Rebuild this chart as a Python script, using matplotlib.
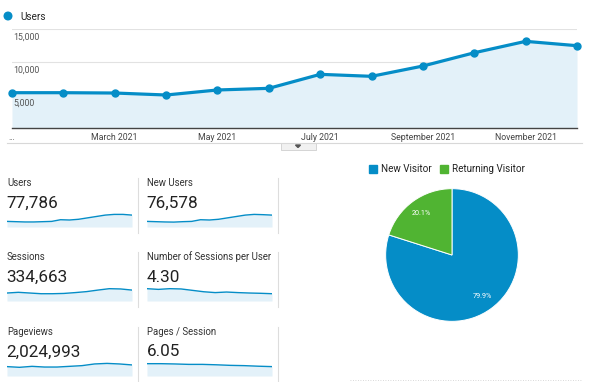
import matplotlib.pyplot as plt
from matplotlib.patches import Rectangle, Circle, Polygon

plt.rcParams['font.family'] = ['Roboto', 'DejaVu Sans']

# main chart: monthly users 2021
months = ["Jan", "Feb", "Mar", "Apr", "May", "Jun", "Jul", "Aug", "Sep", "Oct", "Nov", "Dec"]
users = [5350, 5350, 5300, 5000, 5760, 6010, 8130, 7830, 9390, 11400, 13130, 12470]
tick_pos = [0, 2, 4, 6, 8, 10]
tick_labels = ["...", "March 2021", "May 2021", "July 2021", "September 2021", "November 2021"]
y_ticks = [5000, 10000, 15000]

# scorecards
metric_names = ["Users", "New Users", "Sessions", "Number of Sessions per User", "Pageviews", "Pages / Session"]
metric_values = ["77,786", "76,578", "334,663", "4.30", "2,024,993", "6.05"]
# sparkline heights (fraction of the sparkline box)
spark_users = [0.40, 0.38, 0.36, 0.36, 0.38, 0.40, 0.52, 0.50, 0.55, 0.65, 0.75, 0.85, 0.90, 0.90, 0.85]
spark_new_users = [0.40, 0.38, 0.36, 0.35, 0.38, 0.40, 0.52, 0.50, 0.55, 0.65, 0.75, 0.85, 0.90, 0.88, 0.85]
spark_sessions = [0.57, 0.62, 0.57, 0.52, 0.52, 0.54, 0.60, 0.67, 0.78, 0.88, 0.86, 0.78]
spark_spu = [0.88, 0.83, 0.88, 0.86, 0.76, 0.66, 0.60, 0.64, 0.60, 0.57, 0.55, 0.52]
spark_pageviews = [0.67, 0.62, 0.69, 0.64, 0.64, 0.69, 0.74, 0.86, 0.90, 0.86, 0.79]
spark_pps = [0.88, 0.88, 0.86, 0.83, 0.83, 0.80, 0.76, 0.74, 0.70, 0.67]
sparks = [spark_users, spark_new_users, spark_sessions, spark_spu, spark_pageviews, spark_pps]

# pie
pie_labels = ["New Visitor", "Returning Visitor"]
pie_values = [79.9, 20.1]

BLUE = "#058dc7"
GREEN = "#50b432"
FILL = "#e3f1f9"
W, H = 590, 382


def px(x0, y0, x1, y1):
    return [x0 / W, 1 - y1 / H, (x1 - x0) / W, (y1 - y0) / H]


fig = plt.figure(figsize=(W / 100, H / 100), dpi=100)

# overlay for decorations in pixel coordinates
bg = fig.add_axes([0, 0, 1, 1])
bg.set_xlim(0, W)
bg.set_ylim(H, 0)
bg.axis("off")

# ---- main line chart
ax = fig.add_axes(px(12, 29, 577, 128))
x = list(range(len(users)))
ax.fill_between(x, users, 0, color=FILL, lw=0)
ax.plot(x, users, color=BLUE, lw=2.3, marker="o", ms=5, clip_on=False, zorder=3)
ax.set_xlim(0, len(users) - 1)
ax.set_ylim(0, 15000)
for v in y_ticks:
    ax.axhline(v, color="#e2e2e2", lw=0.8, zorder=0)
    ax.annotate(f"{v:,}", (0, v), xytext=(1, -2.5), textcoords="offset points",
                va="top", ha="left", fontsize=6.3, color="#555555")
ax.set_xticks(tick_pos)
ax.set_xticklabels(tick_labels, fontsize=6.3, color="#444444")
ax.tick_params(axis="x", length=0, pad=3.5)
ax.set_yticks([])
for s in ["top", "left", "right"]:
    ax.spines[s].set_visible(False)
ax.spines["bottom"].set_color("#444444")
ax.spines["bottom"].set_linewidth(1)

# legend "Users"
bg.add_patch(Circle((8, 16), 3.8, color=BLUE))
bg.text(20, 16.5, "Users", fontsize=7.2, color="#222222", va="center", ha="left")

# bottom line and tab
bg.plot([7, 582], [143, 143], color="#d8d8d8", lw=0.8)
bg.add_patch(Rectangle((281, 143), 35, 6.5, facecolor="#f1f1f1", edgecolor="#cfcfcf", lw=0.6))
bg.add_patch(Polygon([[295.5, 145], [300.5, 145], [298, 147.5]], color="#555555"))

# ---- scorecards
col_x = [7, 147]
row_y = [183, 257, 332]
for i, (name, val, sp) in enumerate(zip(metric_names, metric_values, sparks)):
    r, c = divmod(i, 2)
    x0 = col_x[c]
    y0 = row_y[r]
    bg.text(x0, y0, name, fontsize=6.9, color="#333333", va="center", ha="left")
    bg.text(x0 - 0.5, y0 + 20, val, fontsize=12.3, color="#222222", va="center", ha="left")
    sax = fig.add_axes(px(x0, y0 + 30, x0 + 125, y0 + 44))
    sx = list(range(len(sp)))
    sax.fill_between(sx, sp, 0, color=FILL, lw=0)
    sax.plot(sx, sp, color=BLUE, lw=1)
    sax.set_xlim(0, len(sp) - 1)
    sax.set_ylim(0, 1)
    sax.axis("off")
    # separator
    bg.plot([x0 + 131, x0 + 131], [y0 - 5, y0 + 50], color="#dddddd", lw=0.8)

# ---- pie
pax = fig.add_axes(px(385, 188, 519, 322))
wedges, texts, autotexts = pax.pie(pie_values, colors=[BLUE, GREEN], startangle=90,
                                   counterclock=False, autopct="%1.1f%%", pctdistance=0.78,
                                   wedgeprops=dict(edgecolor="white", linewidth=0.7),
                                   textprops=dict(color="white", fontsize=5.2))
pax.set_xlim(-1.01, 1.01)
pax.set_ylim(-1.01, 1.01)
pax.set_aspect("equal")

# pie legend
leg_x = [373, 444]
for lx, lab, col in zip(leg_x, pie_labels, [BLUE, GREEN]):
    bg.add_patch(Rectangle((lx - 4, 165), 8, 8, color=col))
    bg.text(lx + 8, 169.5, lab, fontsize=7.1, color="#222222", va="center", ha="left")

bg.plot([350, 582], [380, 380], color="#cccccc", lw=0.6, ls=(0, (1, 2)))

fig.savefig("out.png", dpi=100)
